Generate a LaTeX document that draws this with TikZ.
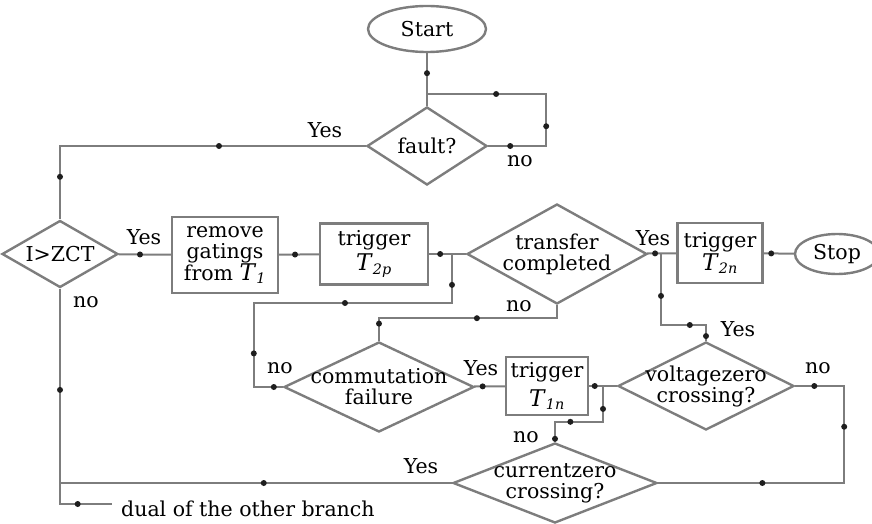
\documentclass[tikz,border=0pt]{standalone}
\usepackage{fontspec}
\setmainfont{DejaVu Serif}
\usetikzlibrary{shapes.geometric}

\definecolor{edge}{RGB}{125,125,125}
\definecolor{dotc}{RGB}{30,30,30}
\newcommand\flowfont{\fontsize{20.5}{21}\selectfont}
\newcommand\thy[1]{{\fontsize{23}{21}\selectfont\textit{T}}\textsubscript{\textit{#1}}}

\tikzset{
  base/.style={draw=edge, line width=2.4pt, inner sep=0pt, font=\flowfont, text=black},
  dia/.style={base, diamond},
  box/.style={base, rectangle, align=center},
  term/.style={base, ellipse},
  flow/.style={draw=edge, line width=2pt},
  tag/.style={font=\flowfont, inner sep=0pt, align=center},
  mk/.style={circle, fill=dotc, inner sep=0pt, minimum size=6pt},
}

\begin{document}
\begin{tikzpicture}[x=1pt, y=-1pt]
\useasboundingbox (0,0) rectangle (872,524);

% ---- shapes ----
\node[term, minimum width=118pt, minimum height=46pt] (start) at (427,29) {Start};
\node[dia, minimum width=120pt, minimum height=78pt,
      label={[tag]center:fault?}] (fault) at (427,146) {};
\node[dia, minimum width=116pt, minimum height=67pt,
      label={[tag]center:I>ZCT}] (izct) at (60,254) {};
\node[box, minimum width=106pt, minimum height=76pt] (rg) at (225,255)
      {remove\\gatings\\from \thy{1}};
\node[box, minimum width=108pt, minimum height=61pt] (t2p) at (374,254)
      {trigger\\[3pt]\thy{2p}};
\node[dia, minimum width=180pt, minimum height=100pt,
      label={[tag]center:transfer\\completed}] (tc) at (557,254) {};
\node[box, minimum width=85pt, minimum height=60pt] (t2n) at (720,253)
      {trigger\\[1pt]\thy{2n}};
\node[term, minimum width=84pt, minimum height=40pt] (stop) at (837,254) {Stop};
\node[dia, minimum width=190pt, minimum height=90pt,
      label={[tag]center:commutation\\failure}] (cf) at (379,387) {};
\node[box, minimum width=82pt, minimum height=58pt] (t1n) at (547,386)
      {trigger\\[7pt]\thy{1n}};
\node[dia, minimum width=176pt, minimum height=88pt,
      label={[tag]center:voltagezero\\crossing?}] (vd) at (706,386) {};
\node[dia, minimum width=204pt, minimum height=80pt,
      label={[tag]center:currentzero\\crossing?}] (cz) at (555,483) {};

% ---- junction points ----
\coordinate (j1) at (427,94);
\coordinate (j2) at (452,254);
\coordinate (j2b) at (452,303);
\coordinate (j3) at (661,254);
\coordinate (j4) at (603,386);
\coordinate (dualend) at (112,504);

% ---- connectors ----
\draw[flow] (start) -- node[mk,pos=.38]{} (fault);
\draw[flow] (fault.east) -- node[mk,pos=.38]{} ++(58,0)
            |- node[mk,pos=.19]{} node[mk,pos=.71]{} (j1);
\draw[flow] (fault.west) -| node[mk,pos=.24]{} node[mk,pos=.71]{} (izct.north);
\draw[flow] (izct) -- node[mk,pos=.41]{} (rg);
\draw[flow] (rg) -- node[mk,pos=.4]{} (t2p);
\draw[flow] (t2p) -- node[mk,pos=.3]{} (tc);
\draw[flow] (cf.west) -- node[mk,pos=.31]{} ++(-29,0)
            |- node[mk,pos=.2]{} node[mk,pos=.73]{} (j2b)
            -- node[mk,pos=.37]{} (j2);
\draw[flow] (tc.south) -- ++(0,13)
            -| node[mk,pos=.225]{} node[mk,pos=.62]{} (cf.north);
\draw[flow] (tc) -- node[mk,pos=.27]{} (t2n);
\draw[flow] (j3) -- node[mk,pos=.59]{} ++(0,71)
            -| node[mk,pos=.32]{} node[mk,pos=.85]{} (vd.north);
\draw[flow] (t2n) -- node[mk,pos=.25]{} (stop);
\draw[flow] (cf) -- node[mk,pos=.28]{} (t1n);
\draw[flow] (t1n) -- node[mk,pos=.2]{} (vd);
\draw[flow] (cz.north) -- node[mk,pos=.15]{} ++(0,-20)
            -| node[mk,pos=.16]{} node[mk,pos=.68]{} (j4);
\draw[flow] (vd.east) -- node[mk,pos=.39]{} ++(49,0)
            |- node[mk,pos=.21]{} node[mk,pos=.72]{} (cz.east);
\draw[flow] (cz.west) -- node[mk,pos=.48]{} (izct.south |- cz.west);
\draw[flow] (izct.south) |- node[mk,pos=.235]{} node[mk,pos=.67]{} (dualend);
\node[tag, anchor=west] (dual) at (121,509) {dual of the other branch};

% ---- branch labels ----
\node[tag] (y1) at (325,130) {Yes};
\node[tag] (n1) at (520,161) {no};
\node[tag] (y2) at (144,237) {Yes};
\node[tag] (n2) at (86,302) {no};
\node[tag] (y3) at (653,238) {Yes};
\node[tag] (y4) at (738,329) {Yes};
\node[tag] (n3) at (519,306) {no};
\node[tag] (n4) at (280,368) {no};
\node[tag] (y5) at (481,368) {Yes};
\node[tag] (n5) at (818,368) {no};
\node[tag] (n6) at (526,437) {no};
\node[tag] (y6) at (421,466) {Yes};
\end{tikzpicture}
\end{document}
